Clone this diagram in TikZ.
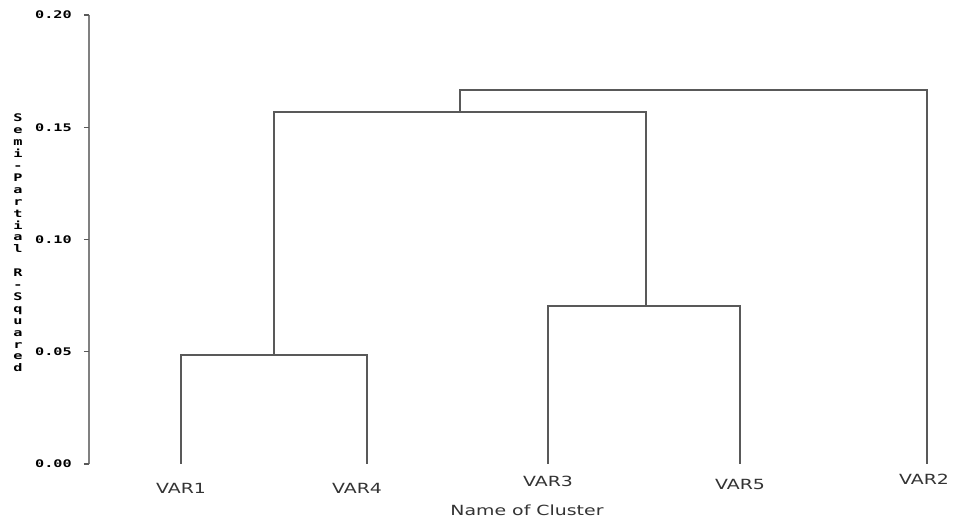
\documentclass[tikz,border=0pt]{standalone}
\usepackage{fontspec}
\setmainfont{DejaVu Sans}
\newfontfamily\leaffont[FakeStretch=1.35]{DejaVu Sans}
\newfontfamily\tickfont[FakeStretch=1.45]{DejaVu Sans Mono Bold}

\begin{document}
\begin{tikzpicture}[x=1pt,y=2245pt,
    link/.style={draw=black!65,line width=1.3pt},
    axisline/.style={draw=black!50,line width=1.8pt},
    leaf/.style={font=\leaffont\fontsize{14}{16}\selectfont,text=black!80},
    tick/.style={font=\tickfont\fontsize{10.5}{12}\selectfont,anchor=east,inner sep=0pt}]
  \useasboundingbox ([yshift=-55pt]-89,0) rectangle ([yshift=464pt]865,0);
  % axis
  \draw[axisline] (0,0) -- (0,0.2);
  \foreach \y/\t in {0/0.00,0.05/0.05,0.1/0.10,0.15/0.15,0.2/0.20} {
    \draw[link] (-5,\y) -- (0,\y);
    \node[tick] at (-17,\y) {\t};
  }
  \node[font=\tickfont\fontsize{10.5}{11.9}\selectfont,align=center,inner sep=0pt] (ytitle)
    at (-71,0.0984) {S\\e\\m\\i\\-\\P\\a\\r\\t\\i\\a\\l\\~\\R\\-\\S\\q\\u\\a\\r\\e\\d};
  % leaves and merges
  \coordinate (v1) at (92,0);
  \coordinate (v4) at (278,0);
  \coordinate (v3) at (459,0);
  \coordinate (v5) at (651,0);
  \coordinate (v2) at (838,0);
  \coordinate (m14) at (185,0.0486);
  \coordinate (m35) at (557,0.0704);
  \coordinate (m1435) at (371,0.1568);
  \coordinate (mtop) at (604,0.1666);
  \draw[link] (v1) |- (m14) -| (v4);
  \draw[link] (v3) |- (m35) -| (v5);
  \draw[link] (m14) |- (m1435) -| (m35);
  \draw[link] (m1435) |- (mtop) -| (v2);
  % labels
  \node[leaf] (n1) at ([yshift=-24pt]v1) {VAR1};
  \node[leaf] (n4) at ([xshift=-10pt,yshift=-24pt]v4) {VAR4};
  \node[leaf] (n3) at ([yshift=-17pt]v3) {VAR3};
  \node[leaf] (n5) at ([yshift=-20pt]v5) {VAR5};
  \node[leaf] (n2) at ([xshift=-3pt,yshift=-15pt]v2) {VAR2};
  \node[leaf] (xtitle) at ([yshift=-46pt]438,0) {Name of Cluster};
\end{tikzpicture}
\end{document}
